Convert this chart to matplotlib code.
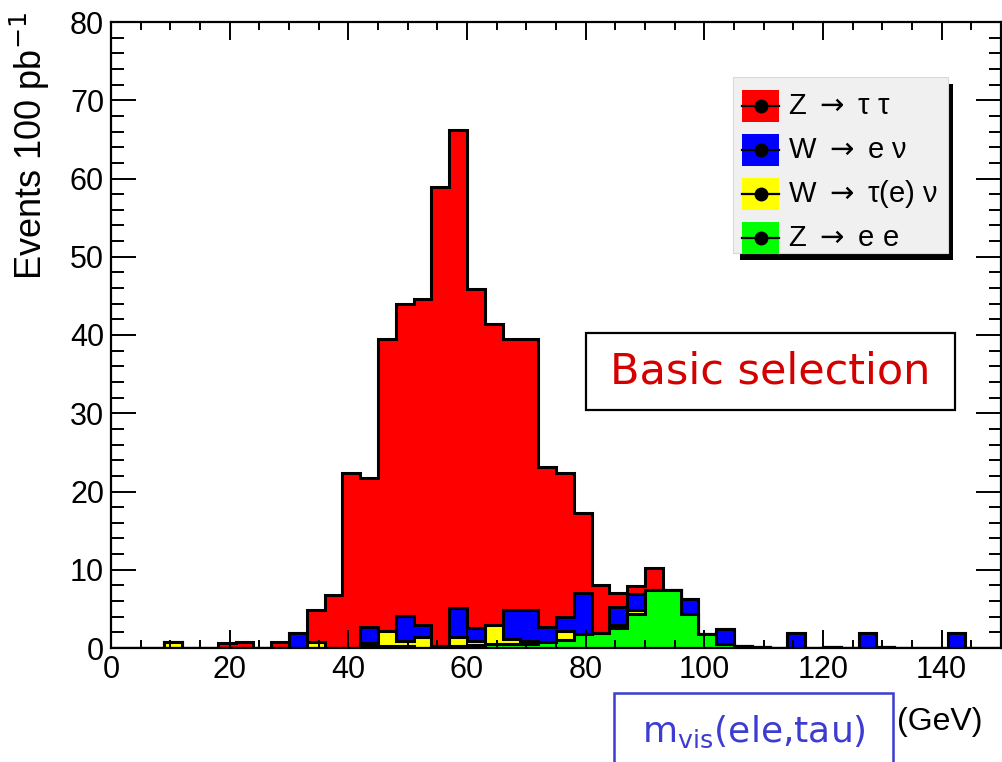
import numpy as np
import matplotlib
matplotlib.use('Agg')
import matplotlib.pyplot as plt
from matplotlib.patches import Rectangle
from matplotlib.lines import Line2D

plt.rcParams['font.family'] = ['Liberation Sans', 'DejaVu Sans']

# bins of 3 GeV from 0 to 150
edges = np.arange(0, 151, 3)

# per-sample contents (events / 100 pb^-1)
z_ee = [0, 0, 0, 0, 0, 0, 0, 0, 0, 0,
        0, 0, 0, 0, 0.2, 0.3, 0.3, 0, 0.2, 0.2,
        0.4, 0.5, 0.5, 0.5, 0.8, 1.0, 1.8, 1.9, 2.6, 4.4,
        7.4, 7.4, 4.4, 1.8, 0.5, 0.3, 0.1, 0, 0, 0,
        0.1, 0, 0, 0.1, 0, 0, 0, 0, 0, 0]
w_taunu = [0, 0, 0, 0.8, 0, 0, 0, 0, 0, 0,
           0, 0.8, 0, 0, 0.5, 1.9, 0.6, 1.4, 0, 1.2,
           0.5, 2.5, 0.7, 0.4, 0, 1.2, 0, 0, 0.4, 0.5,
           0, 0, 0, 0, 0, 0, 0, 0, 0, 0,
           0, 0, 0, 0, 0, 0, 0, 0, 0, 0]
w_enu = [0, 0, 0, 0, 0, 0, 0, 0, 0, 0,
         1.95, 0, 0, 0, 2.0, 0, 3.2, 1.6, 0, 3.7,
         1.7, 0, 3.7, 4.0, 1.9, 1.8, 5.2, 0, 2.3, 2.0,
         0, 0, 1.9, 0, 1.9, 0, 0, 0, 1.9, 0,
         0, 0, 1.9, 0, 0, 0, 0, 1.9, 0, 0]
z_tautau = [0, 0, 0, 0, 0, 0, 0.7, 0.8, 0, 0.8,
            0, 4.1, 6.8, 22.4, 19.0, 37.3, 39.9, 41.6, 58.7, 61.1,
            43.3, 38.4, 34.6, 34.6, 20.4, 18.4, 10.3, 6.2, 1.7, 1.0,
            2.8, 0, 0, 0, 0, 0, 0, 0, 0, 0,
            0, 0, 0, 0, 0, 0, 0, 0, 0, 0]

labels = ['Z $\\rightarrow$ \u03c4 \u03c4', 'W $\\rightarrow$ e \u03bd',
          'W $\\rightarrow$ \u03c4(e) \u03bd', 'Z $\\rightarrow$ e e']
colors = ['#ff0000', '#0000ff', '#ffff00', '#00ff00']

W, H = 1002, 762
fig = plt.figure(figsize=(W / 100, H / 100), dpi=100)
ax = fig.add_axes([111 / W, 1 - 648 / H, (1001 - 111) / W, (648 - 22) / H])

# THStack style: each layer drawn as cumulative sum from zero
c_green = np.array(z_ee)
c_yellow = c_green + np.array(w_taunu)
c_blue = c_yellow + np.array(w_enu)
c_red = c_blue + np.array(z_tautau)
for vals, col in zip([c_red, c_blue, c_yellow, c_green], colors):
    ax.stairs(vals, edges, baseline=0, fill=True, facecolor=col,
              edgecolor='black', linewidth=2.2)

ax.set_xlim(0, 150)
ax.set_ylim(0, 80)
ax.set_xticks(np.arange(0, 141, 20))
ax.set_xticks(np.arange(0, 151, 5), minor=True)
ax.set_yticks(np.arange(0, 81, 10))
ax.set_yticks(np.arange(0, 81, 2), minor=True)
ax.tick_params(which='both', direction='in', top=True, right=True,
               width=1.4, labelsize=22, pad=5)
ax.tick_params(axis='x', which='major', length=13)
ax.tick_params(axis='x', which='minor', length=6)
ax.tick_params(axis='y', which='major', length=18)
ax.tick_params(axis='y', which='minor', length=9)
for s in ax.spines.values():
    s.set_linewidth(1.6)

fig.text(30 / W, 1 - 12 / H, 'Events 100 pb$^{-1}$', rotation=90,
         ha='center', va='top', fontsize=26)

# legend (drawn by hand, ROOT style with shadow)
fig.patches.append(Rectangle((740 / W, 1 - 260 / H), (953 - 740) / W, (260 - 84) / H,
                             transform=fig.transFigure, facecolor='black', edgecolor='none'))
fig.patches.append(Rectangle((733 / W, 1 - 253 / H), (948 - 733) / W, (253 - 77) / H,
                             transform=fig.transFigure, facecolor='#f0f0f0',
                             edgecolor='#d8d8d8', linewidth=0.8))
for i, (lab, col) in enumerate(zip(labels, colors)):
    yc = 106 + i * 44
    fig.patches.append(Rectangle((742 / W, 1 - (yc + 16) / H), 37 / W, 32 / H,
                                 transform=fig.transFigure, facecolor=col, edgecolor='none'))
    fig.lines.append(Line2D([742 / W, 779 / W], [1 - yc / H, 1 - yc / H],
                            transform=fig.transFigure, color='black', linewidth=1.6))
    fig.lines.append(Line2D([760.5 / W], [1 - yc / H], transform=fig.transFigure,
                            marker='o', markersize=9, color='black', linestyle='none'))
    fig.text(788 / W, 1 - yc / H, lab, ha='left', va='center', fontsize=21)

# "Basic selection" box
fig.patches.append(Rectangle((586 / W, 1 - 410 / H), (955 - 586) / W, (410 - 333) / H,
                             transform=fig.transFigure, facecolor='white', edgecolor='black',
                             linewidth=1.6, zorder=0.5))
fig.text((586 + 955) / 2 / W, 1 - 372 / H, 'Basic selection', ha='center', va='center',
         fontsize=31, color='#d40000', family='DejaVu Sans')

# x-axis title box
fig.patches.append(Rectangle((614 / W, 1 - 775 / H), (893 - 614) / W, (775 - 693) / H,
                             transform=fig.transFigure, facecolor='white', edgecolor='#3c3cd2',
                             linewidth=1.8, zorder=0.5))
fig.text((614 + 893) / 2 / W, 1 - 732 / H, r'$\mathregular{m_{vis}}$(ele,tau)',
         ha='center', va='center', fontsize=26, color='#3c3cd2', family='DejaVu Sans')
fig.text(897 / W, 1 - 722 / H, '(GeV)', ha='left', va='center', fontsize=23)

fig.savefig('out.png', dpi=100)
